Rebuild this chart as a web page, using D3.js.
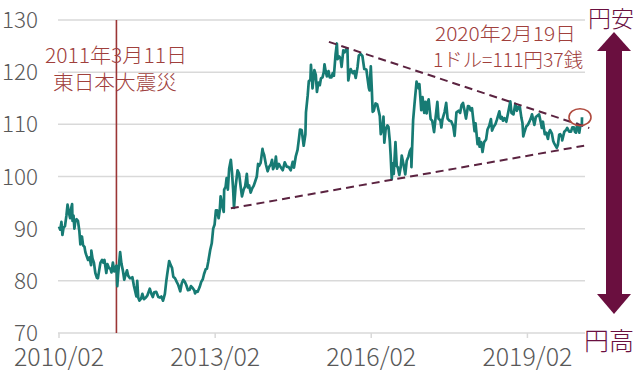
<!DOCTYPE html>
<html><head><meta charset="utf-8">
<script src="https://cdn.jsdelivr.net/npm/d3@7"></script>
<style>
html,body{margin:0;padding:0;background:#fff;}
svg{display:block;}
text{font-family:"Noto Sans CJK JP","Noto Sans",sans-serif;font-weight:300;}
</style></head>
<body><svg id="c" width="640" height="372"></svg>
<script>
// ---- data ----
const dates = [
"2010-02-01","2010-02-10","2010-02-18","2010-02-25","2010-03-05","2010-03-15","2010-03-25","2010-04-02","2010-04-12","2010-04-20","2010-04-28","2010-05-04","2010-05-07","2010-05-14","2010-05-20","2010-05-27","2010-06-04","2010-06-14","2010-06-24","2010-07-01","2010-07-12","2010-07-20","2010-07-30","2010-08-05","2010-08-11","2010-08-24","2010-09-03","2010-09-14","2010-09-16","2010-09-24","2010-10-04","2010-10-14","2010-10-25","2010-11-01","2010-11-10","2010-11-19","2010-11-30","2010-12-08","2010-12-17","2010-12-30",
"2011-01-07","2011-01-17","2011-01-28","2011-02-04","2011-02-14","2011-02-24","2011-03-04","2011-03-11","2011-03-17","2011-03-22","2011-04-01","2011-04-06","2011-04-15","2011-04-25","2011-05-05","2011-05-12","2011-05-24","2011-06-01","2011-06-14","2011-06-24","2011-07-01","2011-07-12","2011-07-29","2011-08-04","2011-08-11","2011-08-19","2011-08-31","2011-09-09","2011-09-20","2011-10-04","2011-10-14","2011-10-31","2011-11-10","2011-11-21","2011-12-01","2011-12-15","2011-12-30",
"2012-01-10","2012-01-20","2012-02-01","2012-02-14","2012-02-24","2012-03-01","2012-03-15","2012-03-26","2012-04-04","2012-04-13","2012-04-25","2012-05-07","2012-05-18","2012-06-01","2012-06-11","2012-06-22","2012-07-03","2012-07-13","2012-07-25","2012-08-06","2012-08-15","2012-08-28","2012-09-07","2012-09-13","2012-09-21","2012-10-01","2012-10-15","2012-10-26","2012-11-06","2012-11-15","2012-11-26","2012-12-05","2012-12-14","2012-12-28",
"2013-01-08","2013-01-18","2013-01-28","2013-02-06","2013-02-15","2013-02-25","2013-03-05","2013-03-11","2013-03-22","2013-04-02","2013-04-05","2013-04-15","2013-04-22","2013-05-01","2013-05-10","2013-05-22","2013-05-30","2013-06-07","2013-06-13","2013-06-24","2013-07-08","2013-07-19","2013-07-31","2013-08-08","2013-08-20","2013-08-30","2013-09-11","2013-09-18","2013-09-27","2013-10-08","2013-10-18","2013-10-29","2013-11-08","2013-11-20","2013-11-29","2013-12-05","2013-12-17","2013-12-30",
"2014-01-02","2014-01-10","2014-01-23","2014-02-04","2014-02-14","2014-02-26","2014-03-07","2014-03-14","2014-03-27","2014-04-03","2014-04-11","2014-04-24","2014-05-06","2014-05-21","2014-06-04","2014-06-18","2014-07-02","2014-07-16","2014-07-30","2014-08-08","2014-08-20","2014-09-02","2014-09-12","2014-09-19","2014-10-01","2014-10-15","2014-10-27","2014-10-31","2014-11-12","2014-11-20","2014-12-01","2014-12-05","2014-12-16","2014-12-29",
"2015-01-08","2015-01-16","2015-01-26","2015-02-05","2015-02-13","2015-02-24","2015-03-05","2015-03-10","2015-03-18","2015-03-27","2015-04-07","2015-04-16","2015-04-28","2015-05-07","2015-05-15","2015-05-27","2015-06-05","2015-06-10","2015-06-22","2015-07-01","2015-07-08","2015-07-20","2015-07-29","2015-08-12","2015-08-18","2015-08-24","2015-09-01","2015-09-10","2015-09-24","2015-10-05","2015-10-15","2015-10-28","2015-11-06","2015-11-18","2015-12-01","2015-12-14","2015-12-29",
"2016-01-05","2016-01-15","2016-01-20","2016-01-29","2016-02-05","2016-02-11","2016-02-19","2016-03-02","2016-03-14","2016-03-24","2016-04-01","2016-04-08","2016-04-19","2016-04-27","2016-05-03","2016-05-12","2016-05-25","2016-06-01","2016-06-10","2016-06-16","2016-06-24","2016-07-01","2016-07-08","2016-07-20","2016-07-29","2016-08-05","2016-08-16","2016-08-26","2016-09-02","2016-09-14","2016-09-27","2016-10-07","2016-10-19","2016-10-28","2016-11-08","2016-11-09","2016-11-21","2016-12-01","2016-12-15","2016-12-30",
"2017-01-04","2017-01-17","2017-01-26","2017-02-07","2017-02-15","2017-02-24","2017-03-02","2017-03-10","2017-03-24","2017-04-04","2017-04-17","2017-04-28","2017-05-10","2017-05-18","2017-05-31","2017-06-07","2017-06-15","2017-06-30","2017-07-11","2017-07-21","2017-08-02","2017-08-15","2017-08-29","2017-09-08","2017-09-21","2017-10-06","2017-10-17","2017-10-27","2017-11-06","2017-11-15","2017-11-27","2017-12-11","2017-12-20","2017-12-29",
"2018-01-08","2018-01-17","2018-01-26","2018-02-02","2018-02-16","2018-02-27","2018-03-02","2018-03-13","2018-03-23","2018-04-03","2018-04-17","2018-04-27","2018-05-09","2018-05-21","2018-05-29","2018-06-08","2018-06-21","2018-07-02","2018-07-19","2018-07-27","2018-08-06","2018-08-13","2018-08-24","2018-09-06","2018-09-20","2018-10-04","2018-10-12","2018-10-26","2018-11-08","2018-11-19","2018-11-29","2018-12-10","2018-12-21","2018-12-28",
"2019-01-03","2019-01-10","2019-01-24","2019-02-04","2019-02-15","2019-02-28","2019-03-05","2019-03-22","2019-04-01","2019-04-24","2019-05-07","2019-05-13","2019-05-21","2019-06-03","2019-06-13","2019-06-25","2019-07-02","2019-07-10","2019-07-23","2019-08-01","2019-08-07","2019-08-26","2019-09-03","2019-09-12","2019-09-19","2019-10-02","2019-10-03","2019-10-18","2019-10-30","2019-11-07","2019-11-21","2019-12-04","2019-12-13","2019-12-24","2019-12-31",
"2020-01-08","2020-01-17","2020-01-31","2020-02-07","2020-02-14","2020-02-18","2020-02-19"];
const usdjpy = [
90.4,89.8,91.3,88.8,90.2,90.5,92.5,94.6,93.0,92.0,94.0,94.7,91.5,92.5,90.0,91.5,91.8,91.5,89.5,87.0,88.5,86.8,86.5,85.5,85.0,84.0,84.5,83.0,85.8,84.3,83.5,81.5,80.6,80.5,82.0,83.5,84.0,83.5,84.0,81.5,
83.2,82.5,82.3,81.6,83.5,81.8,82.5,82.9,79.0,81.0,84.0,85.5,83.3,82.0,80.2,81.0,82.0,81.0,80.5,80.5,80.7,79.0,77.0,80.0,76.8,76.2,76.6,77.5,76.5,76.8,77.2,78.5,77.6,76.9,77.8,77.9,76.9,
76.8,77.0,76.2,77.5,80.0,81.2,83.8,83.0,82.5,80.8,80.5,79.8,79.2,78.0,79.5,80.2,79.8,79.2,78.2,78.3,79.0,78.6,78.2,77.6,78.0,77.9,78.8,79.8,80.3,81.3,82.2,82.3,83.6,85.9,
87.2,90.0,90.8,93.5,93.5,92.0,93.5,96.2,94.5,93.2,97.5,98.0,99.7,97.5,101.5,103.2,100.8,97.5,94.0,98.0,101.2,100.5,97.8,96.2,97.5,98.1,100.5,97.9,98.3,96.9,97.7,98.2,99.0,100.0,102.4,102.0,102.6,105.3,
104.8,104.2,102.3,101.0,101.8,102.3,103.2,101.4,102.2,103.8,101.5,102.4,101.8,101.2,102.7,101.9,101.8,101.2,102.8,101.7,103.8,105.1,107.3,109.0,108.9,105.9,108.1,112.3,115.5,118.3,118.5,121.4,116.9,120.4,
119.5,116.2,118.0,117.5,118.8,119.0,120.0,121.5,120.2,119.2,120.2,119.0,119.0,119.8,119.3,123.5,125.5,122.5,123.0,122.6,121.0,124.2,123.8,124.5,124.4,118.4,119.7,120.6,119.8,120.2,118.9,121.0,123.2,123.5,123.1,120.6,120.5,
119.0,117.0,116.5,121.1,116.8,112.4,112.6,114.0,113.8,112.6,111.6,108.1,109.2,111.5,106.5,109.0,109.8,109.5,106.9,104.2,99.5,102.5,100.5,106.6,102.0,101.8,100.3,101.8,104.0,102.4,100.4,103.0,103.8,104.8,105.4,101.8,110.8,114.0,118.2,116.9,
117.7,112.7,115.2,112.2,114.3,112.1,114.1,114.8,111.0,110.7,108.5,111.4,114.3,111.1,110.8,109.4,111.0,112.4,114.1,111.1,110.7,110.6,109.7,107.8,112.3,112.6,112.2,113.7,114.1,112.9,111.1,113.5,113.4,112.7,
113.1,110.9,108.7,110.2,106.2,107.3,105.7,106.6,104.7,106.6,107.1,109.0,109.7,111.0,108.8,109.5,110.0,110.9,112.5,111.1,111.4,110.7,111.2,110.5,112.4,114.4,112.2,111.9,113.9,112.6,113.4,113.3,111.2,110.3,
107.7,108.4,109.6,109.9,110.5,111.4,111.9,109.9,111.4,111.9,110.2,109.3,110.5,108.1,108.4,107.2,108.4,108.9,108.2,106.8,106.4,105.5,106.1,108.0,108.1,107.5,106.9,108.6,108.9,109.3,108.6,108.6,109.4,109.4,108.6,
108.4,110.1,108.4,109.7,109.8,109.9,111.37];
const yTicks = [70, 80, 90, 100, 110, 120, 130];
const xTickDates = ["2010-02-01", "2013-02-01", "2016-02-01", "2019-02-01"];
const xTickLabels = ["2010/02", "2013/02", "2016/02", "2019/02"];
// trend lines (date, value) endpoints
const upperTrend = [["2015-04-10", 125.8], ["2020-04-10", 109.3]];
const lowerTrend = [["2013-05-22", 93.9], ["2020-03-05", 105.9]];
const quakeDate = "2011-03-11";
const quakeLabel = ["2011年3月11日", "東日本大震災"];
const lastDate = "2020-02-19", lastValue = 111.37;
const lastLabel = ["2020年2月19日", "1ドル=111円37銭"];
const weakLabel = "円安", strongLabel = "円高";

// ---- chart ----
const parse = d3.timeParse("%Y-%m-%d");
const series = dates.map((d, i) => ({ date: parse(d), v: usdjpy[i] }));
const svg = d3.select("#c");
const x = d3.scaleTime().domain([parse("2010-02-01"), parse("2020-02-19")]).range([59, 582]);
const y = d3.scaleLinear().domain([70, 130]).range([333, 20]);
const gridRight = 585;

// gridlines
svg.append("g").selectAll("line").data(yTicks).join("line")
  .attr("x1", 58).attr("x2", gridRight)
  .attr("y1", d => y(d)).attr("y2", d => y(d))
  .attr("stroke", "#d9d9d9").attr("stroke-width", 1.5);

// y labels
svg.append("g").selectAll("text").data(yTicks).join("text")
  .attr("x", 38).attr("y", d => y(d) + 8)
  .attr("text-anchor", "end").attr("fill", "#595959")
  .attr("textLength", d => String(d).length * 12)
  .attr("lengthAdjust", "spacingAndGlyphs")
  .style("font-size", "22px").text(d => d);

// x axis ticks + labels
const xa = svg.append("g");
xa.selectAll("line").data(xTickDates).join("line")
  .attr("x1", d => x(parse(d))).attr("x2", d => x(parse(d)))
  .attr("y1", y(70)).attr("y2", y(70) + 5)
  .attr("stroke", "#d9d9d9").attr("stroke-width", 1.5);
xa.selectAll("text").data(xTickDates).join("text")
  .attr("x", d => x(parse(d))).attr("y", 366)
  .attr("text-anchor", "middle").attr("fill", "#595959")
  .attr("textLength", 90).attr("lengthAdjust", "spacingAndGlyphs")
  .style("font-size", "25px").text((d, i) => xTickLabels[i]);

// quake line
svg.append("line")
  .attr("x1", x(parse(quakeDate))).attr("x2", x(parse(quakeDate)))
  .attr("y1", y(130)).attr("y2", y(70))
  .attr("stroke", "#9b3535").attr("stroke-width", 1.6);

// series
svg.append("path").datum(series)
  .attr("fill", "none").attr("stroke", "#177b74").attr("stroke-width", 2.7)
  .attr("stroke-linejoin", "round")
  .attr("d", d3.line().x(d => x(d.date)).y(d => y(d.v)));

// trend lines
[upperTrend, lowerTrend].forEach(t => {
  svg.append("line")
    .attr("x1", x(parse(t[0][0]))).attr("y1", y(t[0][1]))
    .attr("x2", x(parse(t[1][0]))).attr("y2", y(t[1][1]))
    .attr("stroke", "#5b2340").attr("stroke-width", 2)
    .attr("stroke-dasharray", "8,5");
});

// ellipse
svg.append("ellipse")
  .attr("cx", x(parse(lastDate)) - 2).attr("cy", y(lastValue))
  .attr("rx", 11).attr("ry", 8.5)
  .attr("fill", "none").attr("stroke", "#b04a3e").attr("stroke-width", 1.6);

// annotations
const ann = "#a0403c";
function note(t, xx, yy, anchor, len, fs) {
  svg.append("text").attr("x", xx).attr("y", yy).attr("text-anchor", anchor).attr("fill", ann)
    .attr("textLength", len).attr("lengthAdjust", "spacingAndGlyphs")
    .style("font-size", fs + "px").text(t);
}
note(quakeLabel[0], 45, 63, "start", 142, 20);
note(quakeLabel[1], 53, 90, "start", 124, 20);
note(lastLabel[0], 576, 41, "end", 141, 19);
note(lastLabel[1], 583, 67, "end", 150, 19);

// right arrow
const ac = "#6a0f3f";
const ax = 614;
svg.append("rect").attr("x", ax - 8).attr("y", 48).attr("width", 16).attr("height", 250).attr("fill", ac);
svg.append("path").attr("d", `M${ax},32 L${ax + 17},51 L${ax - 17},51 Z`).attr("fill", ac);
svg.append("path").attr("d", `M${ax},314 L${ax + 17},294 L${ax - 17},294 Z`).attr("fill", ac);
svg.append("text").attr("x", 611).attr("y", 27).attr("text-anchor", "middle").attr("fill", ac)
  .style("font-size", "23px").text(weakLabel);
svg.append("text").attr("x", 609).attr("y", 350).attr("text-anchor", "middle").attr("fill", ac)
  .style("font-size", "25px").text(strongLabel);
</script></body></html>
